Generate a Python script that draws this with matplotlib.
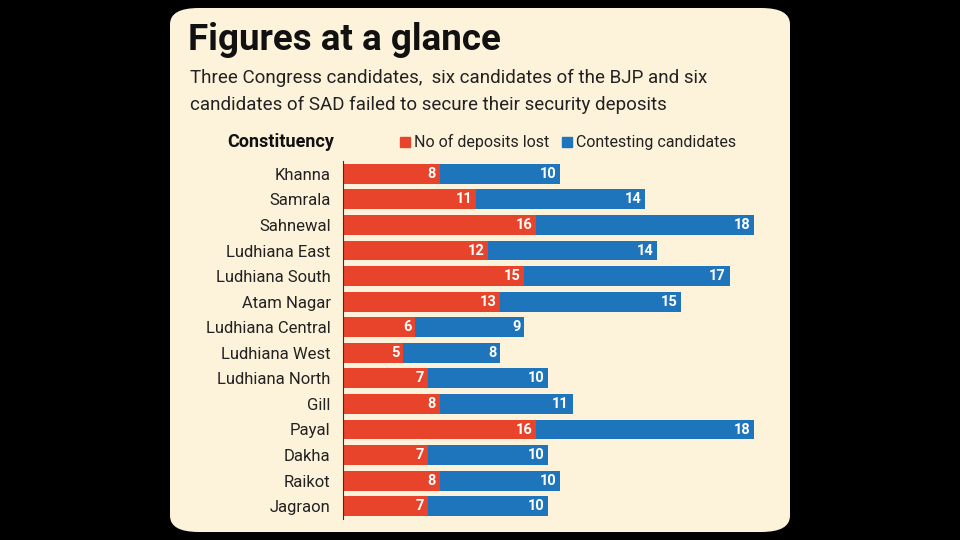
import matplotlib
matplotlib.use("Agg")
import matplotlib.pyplot as plt
from matplotlib.patches import FancyBboxPatch, Rectangle

constituencies = ["Khanna","Samrala","Sahnewal","Ludhiana East","Ludhiana South","Atam Nagar",
                  "Ludhiana Central","Ludhiana West","Ludhiana North","Gill","Payal","Dakha","Raikot","Jagraon"]
deposits_lost = [8,11,16,12,15,13,6,5,7,8,16,7,8,7]
contesting = [10,14,18,14,17,15,9,8,10,11,18,10,10,10]

RED = "#E8432B"; BLUE = "#1E75BC"; CREAM = "#FDF2DA"
W, H = 960, 540
fig = plt.figure(figsize=(9.6, 5.4), dpi=100, facecolor="black")
fig.patches.append(FancyBboxPatch((170/W, 8/H), 620/W, 524/H, boxstyle="round,pad=0,rounding_size=0.03",
                                  transform=fig.transFigure, facecolor=CREAM, edgecolor="none", zorder=-10))
FONT = "Roboto"
def ft(x, y, s, **kw):
    fig.text(x/W, 1-y/H, s, family=FONT, **kw)
ft(188, 40, "Figures at a glance", fontsize=26.5, fontweight="bold", va="center", color="#111")
ft(190, 78, "Three Congress candidates,  six candidates of the BJP and six", fontsize=13.5, va="center", color="#222")
ft(190, 105, "candidates of SAD failed to secure their security deposits", fontsize=13.5, va="center", color="#222")
ft(334, 142, "Constituency", fontsize=13, fontweight="bold", ha="right", va="center", color="#111")
fig.patches.append(Rectangle((400/W, 1-147/H), 10/W, 10/H, transform=fig.transFigure, color=RED))
ft(414, 142, "No of deposits lost", fontsize=11.5, va="center", color="#222")
fig.patches.append(Rectangle((562/W, 1-147/H), 10/W, 10/H, transform=fig.transFigure, color=BLUE))
ft(576, 142, "Contesting candidates", fontsize=11.5, va="center", color="#222")

ax = fig.add_axes([343/W, 1-519/H, (790-343)/W, (519-161)/H])
ax.set_zorder(5)
ax.set_facecolor("none")
y = list(range(len(constituencies)))
ax.barh(y, deposits_lost, height=0.78, color=RED)
ax.barh(y, contesting, left=deposits_lost, height=0.78, color=BLUE)
for i in y:
    d, c = deposits_lost[i], contesting[i]
    ax.text(d-0.3, i, str(d), ha="right", va="center", color="white", fontsize=10.5, fontweight="bold", family=FONT)
    ax.text(d+c-0.3, i, str(c), ha="right", va="center", color="white", fontsize=10.5, fontweight="bold", family=FONT)
ax.set_xlim(0, 37)
ax.set_ylim(len(y)-0.5, -0.5)
ax.set_yticks(y)
ax.set_yticklabels(constituencies, family=FONT, fontsize=12, color="#222")
ax.tick_params(axis="y", length=0, pad=9)
ax.set_xticks([])
for s in ["top","right","bottom"]:
    ax.spines[s].set_visible(False)
ax.spines["left"].set_color("#333")
fig.savefig("out.png", dpi=100, facecolor="black")
